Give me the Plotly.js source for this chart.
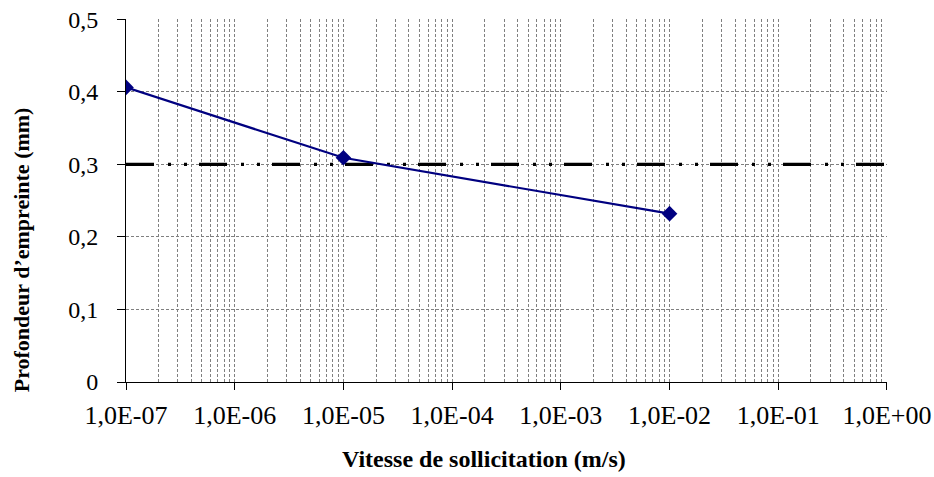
<!DOCTYPE html>
<html>
<head>
<meta charset="utf-8">
<script src="https://cdn.plot.ly/plotly-3.0.1.min.js"></script>
<style>
  html, body { margin: 0; padding: 0; background: #ffffff; }
  #chart { width: 934px; height: 477px; }
</style>
</head>
<body>
<div id="chart"></div>
<script>
// ---- data ----
const speeds = [1e-7, 1e-5, 1e-2];          // Vitesse de sollicitation (m/s)
const depths = [0.406, 0.309, 0.232];       // Profondeur d'empreinte (mm)
const limitX = [1e-7, 1];                   // reference level line
const limitY = [0.3, 0.3];
const xTickVals = [1e-7, 1e-6, 1e-5, 1e-4, 1e-3, 1e-2, 1e-1, 1];
const xTickText = ['1,0E-07', '1,0E-06', '1,0E-05', '1,0E-04', '1,0E-03', '1,0E-02', '1,0E-01', '1,0E+00'];
const yTickVals = [0, 0.1, 0.2, 0.3, 0.4, 0.5];
const yTickText = ['0', '0,1', '0,2', '0,3', '0,4', '0,5'];
const xTitle = 'Vitesse de sollicitation (m/s)';
const yTitle = 'Profondeur d\u2019empreinte (mm)';

const serif = "'Liberation Serif', 'Times New Roman', serif";
const gridColor = '#808080';
const gridDash = '3px,2px';

const traces = [
  {
    x: limitX, y: limitY, type: 'scatter', mode: 'lines',
    line: { color: '#000000', width: 3.3, dash: '28px,14px,3px,13px,3px,12px' },
    hoverinfo: 'skip', showlegend: false
  },
  {
    x: speeds, y: depths, type: 'scatter', mode: 'lines+markers',
    line: { color: '#000080', width: 2.2 },
    marker: { symbol: 'diamond', size: 12, color: '#000080' },
    showlegend: false
  }
];

const layout = {
  width: 934, height: 477,
  margin: { l: 126, r: 47, t: 19, b: 95 },
  paper_bgcolor: '#ffffff', plot_bgcolor: '#ffffff',
  separators: ', ',
  showlegend: false,
  font: { family: serif, color: '#000000' },
  xaxis: {
    type: 'log', range: [-7, 0.0003],
    tickmode: 'array', tickvals: xTickVals, ticktext: xTickText,
    ticks: 'outside', ticklen: 7, tickwidth: 1, tickcolor: '#000000',
    tickfont: { family: serif, size: 26, color: '#000000' },
    ticklabelstandoff: 3,
    showline: true, linecolor: '#000000', linewidth: 1,
    showgrid: true, gridcolor: gridColor, griddash: gridDash, gridwidth: 1,
    minor: { showgrid: true, gridcolor: gridColor, griddash: gridDash, gridwidth: 1, dtick: 'D1', ticks: '' },
    zeroline: false
  },
  yaxis: {
    range: [0, 0.5003],
    tickmode: 'array', tickvals: yTickVals, ticktext: yTickText,
    ticks: 'outside', ticklen: 8, tickwidth: 1, tickcolor: '#000000',
    tickfont: { family: serif, size: 24, color: '#000000' },
    ticklabelstandoff: 14,
    showline: true, linecolor: '#000000', linewidth: 1,
    showgrid: true, gridcolor: gridColor, griddash: gridDash, gridwidth: 1,
    zeroline: false
  },
  annotations: [
    {
      text: '<b>' + xTitle + '</b>', xref: 'paper', yref: 'paper',
      x: 0.4708, y: -0.212, xanchor: 'center', yanchor: 'middle',
      showarrow: false, font: { family: serif, size: 24, color: '#000000' }
    },
    {
      text: '<b>' + yTitle + '</b>', xref: 'paper', yref: 'paper',
      x: -0.1376, y: 0.3636, xanchor: 'center', yanchor: 'middle', textangle: -90,
      showarrow: false, font: { family: serif, size: 22, color: '#000000' }
    }
  ]
};

Plotly.newPlot('chart', traces, layout, { staticPlot: true, displayModeBar: false });
</script>
</body>
</html>
